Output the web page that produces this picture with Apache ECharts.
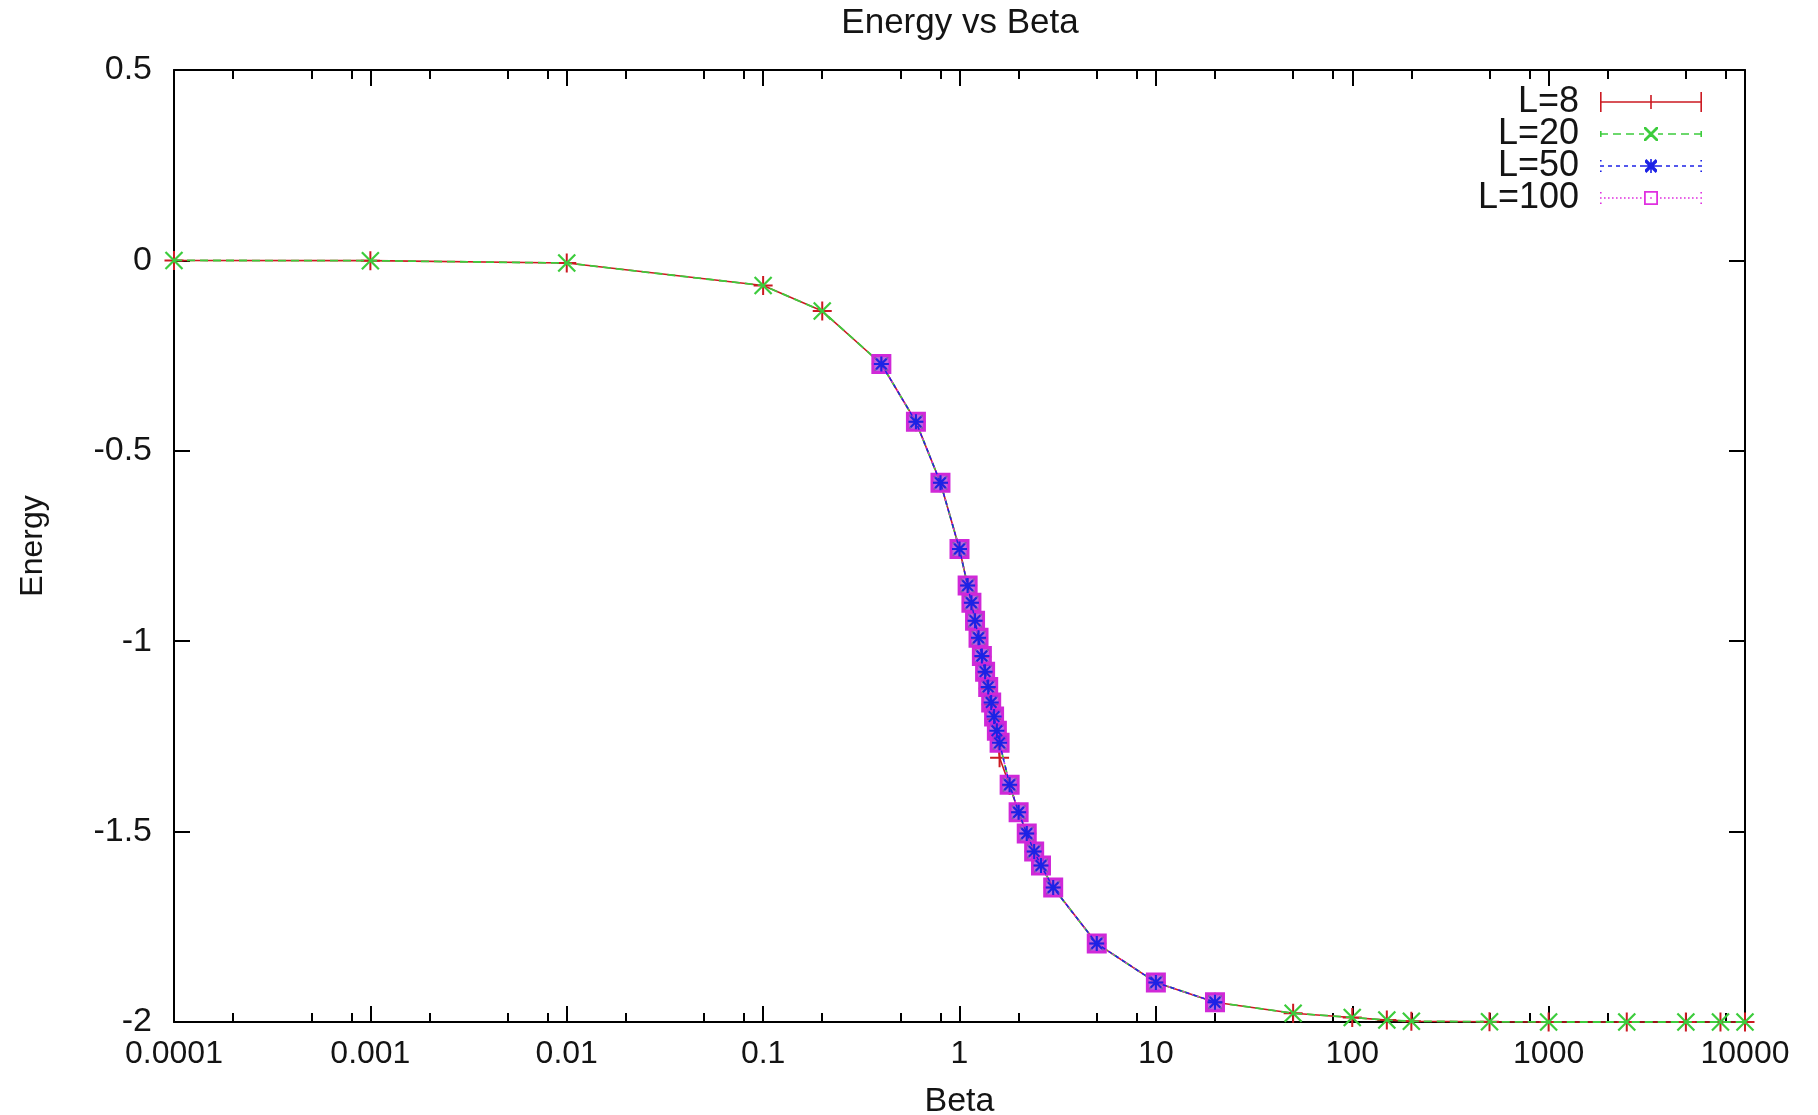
<!DOCTYPE html>
<html><head><meta charset="utf-8">
<script src="https://cdn.jsdelivr.net/npm/echarts@6/dist/echarts.min.js"></script>
<style>html,body{margin:0;padding:0;background:#fff}#c{width:1818px;height:1115px}</style>
</head><body><div id="c"></div>
<script>
// ---- data ----
const betaFull = [0.0001, 0.001, 0.01, 0.1, 0.2, 0.4, 0.6, 0.8, 1.0, 1.1, 1.15, 1.2, 1.25, 1.3, 1.35, 1.4, 1.45, 1.5, 1.55, 1.6, 1.8, 2.0, 2.2, 2.4, 2.6, 3.0, 5, 10, 20, 50, 100, 150, 200, 500, 1000, 2500, 5000, 7500, 10000];
const energyL8 = [-0.0001, -0.0007, -0.007, -0.066, -0.133, -0.272, -0.424, -0.584, -0.758, -0.854, -0.899, -0.946, -0.993, -1.041, -1.083, -1.124, -1.166, -1.205, -1.25, -1.306, -1.379, -1.449, -1.505, -1.552, -1.589, -1.647, -1.794, -1.896, -1.948, -1.977, -1.988, -1.995, -1.998, -1.9995, -2.0, -2.0, -2.0, -2.0, -2.0];
const energyL20 = [-0.0001, -0.0007, -0.007, -0.066, -0.133, -0.272, -0.424, -0.584, -0.758, -0.854, -0.899, -0.946, -0.991, -1.039, -1.080, -1.120, -1.161, -1.198, -1.235, -1.267, -1.377, -1.449, -1.505, -1.552, -1.589, -1.647, -1.794, -1.896, -1.948, -1.977, -1.988, -1.995, -1.998, -1.9995, -2.0, -2.0, -2.0, -2.0, -2.0];
const betaMid = [0.4, 0.6, 0.8, 1.0, 1.1, 1.15, 1.2, 1.25, 1.3, 1.35, 1.4, 1.45, 1.5, 1.55, 1.6, 1.8, 2.0, 2.2, 2.4, 2.6, 3.0, 5, 10, 20];
const energyL50 = [-0.272, -0.424, -0.584, -0.758, -0.854, -0.899, -0.946, -0.991, -1.039, -1.080, -1.120, -1.161, -1.198, -1.235, -1.267, -1.377, -1.449, -1.505, -1.552, -1.589, -1.647, -1.794, -1.896, -1.948];
const energyL100 = [-0.272, -0.424, -0.584, -0.758, -0.854, -0.899, -0.946, -0.991, -1.039, -1.080, -1.120, -1.161, -1.198, -1.235, -1.267, -1.377, -1.449, -1.505, -1.552, -1.589, -1.647, -1.794, -1.896, -1.948];
const seriesNames = ['L=8', 'L=20', 'L=50', 'L=100'];
const xMajorTicks = [0.0001, 0.001, 0.01, 0.1, 1, 10, 100, 1000, 10000];
const xTickLabels = ['0.0001', '0.001', '0.01', '0.1', '1', '10', '100', '1000', '10000'];
const xMinorTicks = [0.0002, 0.0005, 0.0008, 0.002, 0.005, 0.008, 0.02, 0.05, 0.08, 0.2, 0.5, 0.8, 2, 5, 8, 20, 50, 80, 200, 500, 800, 2000, 5000, 8000];
const chartTitle = 'Energy vs Beta';
const xName = 'Beta';
const yName = 'Energy';

// ---- styling ----
const FONT = "'Liberation Sans', Arial, sans-serif";
const RED = '#cc1a22', GREEN = '#3ccc3c', BLUE = '#1c22e6', MAGENTA = '#e030e0';
const TXT = '#141414';

const zip = (xs, ys) => xs.map((x, i) => [x, ys[i]]);
const fmtX = (v) => {
  const e = Math.round(Math.log10(v));
  const i = xMajorTicks.findIndex(t => Math.round(Math.log10(t)) === e);
  return i >= 0 ? xTickLabels[i] : '';
};

// legend icons (102 x 20 boxes, filled shapes)
function dashes(segs, y0, h) { return segs.map(s => `M${s[0]},${y0}H${s[1]}V${y0 + h}H${s[0]}Z`).join(''); }
const iconL8 = 'path://' + 'M0,9.2H102V10.8H0Z' + 'M0,0H1.6V20H0Z' + 'M100.4,0H102V20H100.4Z' + 'M50.2,3H51.8V17H50.2Z';
const xMark = 'M44,3L46,3L58,15L58,17L56,17L44,5Z' + 'M58,3L58,5L46,17L44,17L44,15L56,3Z';
const iconL20 = 'path://' + dashes([[0,8],[13,21],[26,34],[39,44],[58,63],[68,76],[81,89],[94,102]], 9.2, 1.6)
  + 'M0,7H1.6V13H0Z' + 'M100.4,7H102V13H100.4Z' + xMark;
const iconL50 = 'path://' + dashes([[0,4],[8,12],[16,20],[24,28],[32,36],[40,44],[58,62],[66,70],[74,78],[82,86],[90,94],[98,102]], 9.2, 1.6)
  + 'M0,4H1.6V5.6H0Z' + 'M0,14.4H1.6V16H0Z' + 'M100.4,4H102V5.6H100.4Z' + 'M100.4,14.4H102V16H100.4Z'
  + 'M50.2,3H51.8V17H50.2Z' + 'M44,9.2H58V10.8H44Z' + 'M45,4.4L46.4,3L57,13.6L57,15.6L55.6,17L45,6.4Z' + 'M57,4.4L57,6.4L46.4,17L45,15.6L45,13.6L55.6,3Z';
let dots = '';
for (let x = 4; x < 42; x += 4) dots += `M${x},9.2H${x + 1.6}V10.8H${x}Z`;
for (let x = 60; x < 98; x += 4) dots += `M${x},9.2H${x + 1.6}V10.8H${x}Z`;
const iconL100 = 'path://' + dots
  + 'M0,4H1.6V5.6H0Z' + 'M0,9.2H1.6V10.8H0Z' + 'M0,14.4H1.6V16H0Z'
  + 'M100.4,4H102V5.6H100.4Z' + 'M100.4,9.2H102V10.8H100.4Z' + 'M100.4,14.4H102V16H100.4Z'
  + 'M44,3H58V17H44Z' + 'M45.8,4.8V15.2H56.2V4.8Z' + 'M50.2,9.2H51.8V10.8H50.2Z';

const symPlus = 'path://M0,5L10,5M5,0L5,10';
const symCross = 'path://M0,0L10,10M10,0L0,10';
const symStar = 'path://M0,5L10,5M5,0L5,10M1.5,1.5L8.5,8.5M8.5,1.5L1.5,8.5';

const axisLine = { show: true, onZero: false, lineStyle: { color: '#000', width: 2 } };
const noLine = { show: false, onZero: false };
const tickStyle = { color: '#000', width: 2 };
const logBase = { type: 'log', logBase: 10, min: 0.0001, max: 10000, gridIndex: 0, splitLine: { show: false }, minorTick: { show: false }, minorSplitLine: { show: false } };

const chart = echarts.init(document.getElementById('c'), null, { renderer: 'canvas' });
chart.setOption({
  animation: false,
  backgroundColor: '#fff',
  title: {
    text: chartTitle, left: 960, textAlign: 'center', top: 0, padding: [6, 0, 0, 0],
    textStyle: { fontFamily: FONT, fontSize: 35, fontWeight: 'normal', color: TXT }
  },
  grid: { left: 174, right: 73, top: 70, bottom: 93, containLabel: false, outerBoundsMode: 'none' },
  legend: {
    orient: 'vertical', right: 116, top: 84, align: 'right', padding: 0,
    itemWidth: 102, itemHeight: 20, itemGap: -4, selectedMode: false,
    textStyle: { fontFamily: FONT, fontSize: 36, color: TXT, lineHeight: 31, padding: [0, 16, 0, 0] },
    data: [
      { name: 'L=8', icon: iconL8, itemStyle: { color: RED, borderWidth: 0 } },
      { name: 'L=20', icon: iconL20, itemStyle: { color: GREEN, borderWidth: 0 } },
      { name: 'L=50', icon: iconL50, itemStyle: { color: BLUE, borderWidth: 0 } },
      { name: 'L=100', icon: iconL100, itemStyle: { color: MAGENTA, borderWidth: 0 } }
    ]
  },
  xAxis: [
    Object.assign({}, logBase, {
      position: 'bottom', axisLine,
      axisTick: { show: true, inside: true, length: 16, customValues: xMajorTicks, lineStyle: tickStyle },
      axisLabel: { show: true, customValues: xMajorTicks, formatter: fmtX, fontFamily: FONT, fontSize: 32, color: TXT, margin: 16 },
      name: xName, nameLocation: 'middle', nameGap: 63,
      nameTextStyle: { fontFamily: FONT, fontSize: 34, color: TXT }
    }),
    Object.assign({}, logBase, {
      position: 'bottom', axisLine: noLine,
      axisTick: { show: true, inside: true, length: 9, customValues: xMinorTicks, lineStyle: tickStyle },
      axisLabel: { show: false }
    }),
    Object.assign({}, logBase, {
      position: 'top', axisLine,
      axisTick: { show: true, inside: true, length: 16, customValues: xMajorTicks, lineStyle: tickStyle },
      axisLabel: { show: false }
    }),
    Object.assign({}, logBase, {
      position: 'top', axisLine: noLine,
      axisTick: { show: true, inside: true, length: 9, customValues: xMinorTicks, lineStyle: tickStyle },
      axisLabel: { show: false }
    })
  ],
  yAxis: [
    {
      type: 'value', min: -2, max: 0.5, interval: 0.5, position: 'left', axisLine,
      axisTick: { show: true, inside: true, length: 16, lineStyle: tickStyle },
      axisLabel: { fontFamily: FONT, fontSize: 34, color: TXT, margin: 22 },
      splitLine: { show: false },
      name: yName, nameLocation: 'middle', nameGap: 125, nameRotate: 90,
      nameTextStyle: { fontFamily: FONT, fontSize: 32, color: TXT }
    },
    {
      type: 'value', min: -2, max: 0.5, interval: 0.5, position: 'right', axisLine,
      axisTick: { show: true, inside: true, length: 16, lineStyle: tickStyle },
      axisLabel: { show: false }, splitLine: { show: false }
    }
  ],
  series: [
    {
      name: seriesNames[0], type: 'line', xAxisIndex: 0, yAxisIndex: 0, clip: false, z: 2,
      data: zip(betaFull, energyL8), symbol: symPlus, symbolSize: 19,
      itemStyle: { color: 'none', borderColor: RED, borderWidth: 2 },
      lineStyle: { color: RED, width: 1.6, type: 'solid' }
    },
    {
      name: seriesNames[1], type: 'line', xAxisIndex: 0, yAxisIndex: 0, clip: false, z: 3,
      data: zip(betaFull, energyL20), symbol: symCross, symbolSize: 17,
      itemStyle: { color: 'none', borderColor: GREEN, borderWidth: 2.2 },
      lineStyle: { color: GREEN, width: 1.8, type: [8, 5] }
    },
    {
      name: seriesNames[3], type: 'line', xAxisIndex: 0, yAxisIndex: 0, clip: false, z: 4,
      data: zip(betaMid, energyL100), symbol: 'rect', symbolSize: 17,
      itemStyle: { color: 'rgba(160,50,215,0.75)', borderColor: '#d028d8', borderWidth: 3 },
      lineStyle: { color: MAGENTA, width: 1.6, type: [2, 3] }
    },
    {
      name: seriesNames[2], type: 'line', xAxisIndex: 0, yAxisIndex: 0, clip: false, z: 5,
      data: zip(betaMid, energyL50), symbol: symStar, symbolSize: 15,
      itemStyle: { color: 'none', borderColor: BLUE, borderWidth: 2 },
      lineStyle: { color: BLUE, width: 1.4, type: [4, 4] }
    }
  ]
});
</script></body></html>
